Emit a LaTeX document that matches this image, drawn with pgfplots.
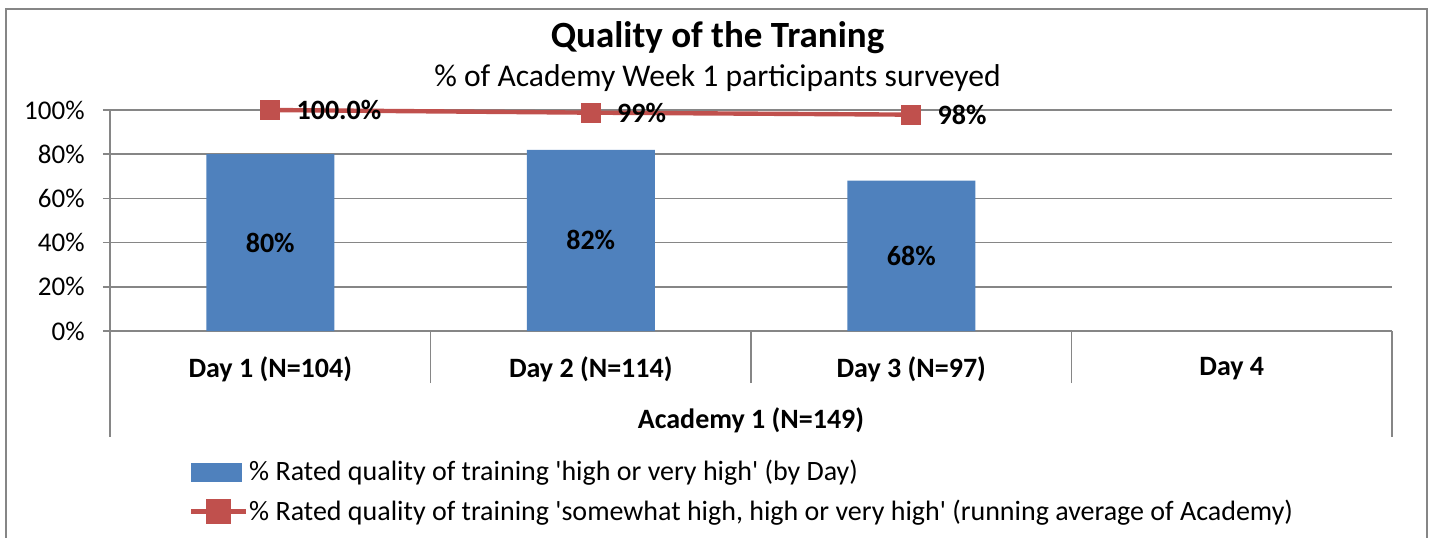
\documentclass[border=0pt]{standalone}
\usepackage{pgfplots}
\pgfplotsset{compat=1.18}
\usepackage{fontspec}
\setmainfont{Carlito}
\definecolor{barblue}{HTML}{4F81BD}
\definecolor{linered}{HTML}{C0504D}
\definecolor{gridgray}{HTML}{868686}
\begin{document}
\begin{tikzpicture}
\useasboundingbox (0,0) rectangle (717.5pt,-268.5pt);
\begin{scope}
\clip (0,0) rectangle (717.5pt,-268.5pt);
\draw[gridgray, line width=1pt] (3pt,-4.5pt) rectangle (713.5pt,-290pt);
\end{scope}
\node[font=\fontsize{18.5}{22}\selectfont\bfseries] at (358.75pt,-19pt) {Quality of the Traning};
\node[font=\fontsize{15.8}{19}\selectfont] at (358.75pt,-39pt) {\% of Academy Week 1 participants surveyed};
\begin{axis}[
  at={(55pt,-165.5pt)}, anchor=south west,
  scale only axis, width=641pt, height=110.5pt,
  xmin=-0.5, xmax=3.5, ymin=0, ymax=100,
  clip=false,
  axis x line*=bottom, axis y line*=left,
  axis line style={gridgray, line width=0.75pt},
  ymajorgrids, grid style={gridgray, line width=0.75pt},
  ytick={0,20,40,60,80,100},
  yticklabels={0\%,20\%,40\%,60\%,80\%,100\%},
  yticklabel style={font=\fontsize{13.5}{16}\selectfont, anchor=east, inner sep=0pt, xshift=-9pt},
  xtick={0,1,2,3},
  xticklabels={Day 1 (N=104),Day 2 (N=114),Day 3 (N=97),Day 4},
  xticklabel style={font=\fontsize{14}{17}\selectfont\bfseries, anchor=center, yshift=-15.5pt},
  major x tick style={draw=none},
  minor xtick={0.5,1.5,2.5},
  minor tick length=26pt,
  minor x tick style={gridgray, line width=0.75pt},
  tick align=outside, major tick length=3.5pt,
  major y tick style={gridgray, line width=0.75pt},
  xlabel={Academy 1 (N=149)},
  xlabel style={at={(axis description cs:0.5,0)}, anchor=center, yshift=-44.5pt, font=\fontsize{14}{17}\selectfont\bfseries},
  legend cell align=left,
  legend style={at={(axis description cs:0.0565,0)}, anchor=north west, yshift=-61pt,
    draw=none, fill=none, font=\fontsize{14}{17}\selectfont, row sep=5pt,
    nodes={inner xsep=0.5pt, inner ysep=1.5pt},
    /tikz/every even column/.append style={column sep=0pt}},
]
\addplot[ybar, bar width=64pt, bar shift=0pt, fill=barblue, draw=none,
  legend image code/.code={\fill[barblue] (0pt,-4.75pt) rectangle (25.5pt,4.75pt);}]
  coordinates {(0,80) (1,82) (2,68)};
\addlegendentry{\% Rated quality of training \textquotesingle high or very high\textquotesingle\ (by Day)}
\addplot[draw=none, mark=none, forget plot, nodes near coords, point meta=explicit symbolic,
  every node near coord/.append style={anchor=center, text=black, font=\fontsize{14}{17}\selectfont\bfseries}]
  coordinates {(0,40) [80\%] (1,41) [82\%] (2,34) [68\%]};
\addplot[linered, line width=2.2pt, mark=square*, mark size=4.8pt, mark options={line width=0.4pt},
  nodes near coords, point meta=explicit symbolic,
  every node near coord/.append style={anchor=west, inner sep=0pt, xshift=13pt, text=black, font=\fontsize{14}{17}\selectfont\bfseries},
  legend image code/.code={\draw[linered, line width=2.2pt] (0pt,0pt) -- (27.5pt,0pt); \fill[linered] (8.75pt,-5pt) rectangle (18.75pt,5pt);}]
  coordinates {(0,100) [100.0\%] (1,98.8) [99\%] (2,97.9) [98\%]};
\addlegendentry{\% Rated quality of training \textquotesingle somewhat high, high or very high\textquotesingle\ (running average of Academy)}
\draw[gridgray, line width=0.75pt] (rel axis cs:0,0) -- ++(0pt,-53pt);
\draw[gridgray, line width=0.75pt] (rel axis cs:1,0) -- ++(0pt,-53pt);
\end{axis}
\end{tikzpicture}
\end{document}
